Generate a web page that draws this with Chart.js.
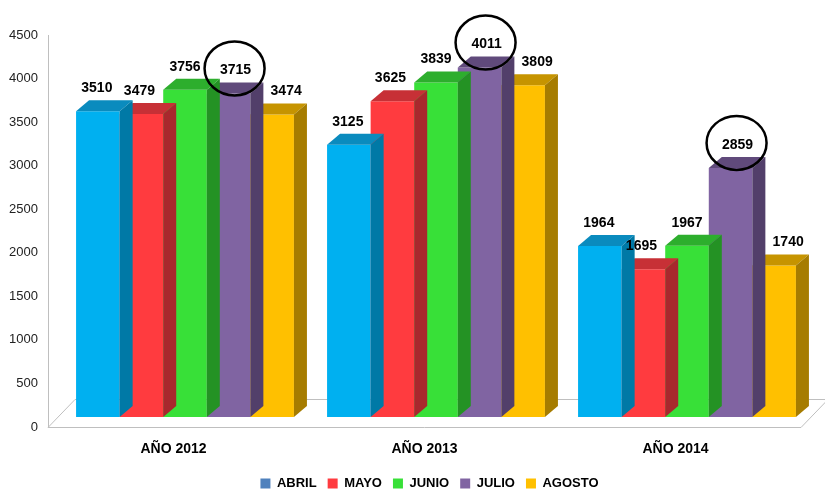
<!DOCTYPE html>
<html>
<head>
<meta charset="utf-8">
<script src="https://cdn.jsdelivr.net/npm/chart.js@4/dist/chart.umd.min.js"></script>
<style>
html,body{margin:0;padding:0;background:#fff;}
#wrap{width:825px;height:489px;position:relative;}
</style>
</head>
<body>
<div id="wrap"><canvas id="c" width="825" height="489"></canvas></div>
<script>
// ---- data ----
const categories = ['AÑO 2012', 'AÑO 2013', 'AÑO 2014'];
const seriesNames = ['ABRIL', 'MAYO', 'JUNIO', 'JULIO', 'AGOSTO'];
const abril  = [3510, 3125, 1964];
const mayo   = [3479, 3625, 1695];
const junio  = [3756, 3839, 1967];
const julio  = [3715, 4011, 2859];
const agosto = [3474, 3809, 1740];
const yMin = 0, yMax = 4500, yStep = 500;
const circledSeries = 'JULIO';

// ---- styles ----
const frontColors  = ['#00B0F0', '#FF3B3F', '#38E038', '#8064A2', '#FFC000'];
const topColors    = ['#0A8BBE', '#C73036', '#2DAE2D', '#604A7B', '#C69400'];
const sideColors   = ['#0079A6', '#A8282D', '#249224', '#523F6A', '#A67C00'];
const legendColors = ['#4F81BD', '#FF3B3F', '#38E038', '#8064A2', '#FFC000'];
const labelShiftX  = [-1, -2, 0, 7, 14];

const TX = 11.5, TY = -10;      // bar offset inside floor
const DX = 13, DY = 11;         // bar depth
const FONT = '"Liberation Sans", Arial, sans-serif';
Chart.defaults.font.family = FONT;

const seriesValues = [abril, mayo, junio, julio, agosto];

const threeD = {
  id: 'threeD',
  afterLayout(chart) {
    const lg = chart.legend;
    if (lg) { lg.top += 11; lg.bottom += 11; lg.left += 29; lg.right += 29; }
  },
  beforeDatasetsDraw(chart) {
    const {ctx, chartArea: a} = chart;
    ctx.save();
    ctx.strokeStyle = '#BFBFBF';
    ctx.lineWidth = 1;
    ctx.beginPath();
    ctx.moveTo(a.left, a.bottom + 0.5);
    ctx.lineTo(a.right, a.bottom + 0.5);
    ctx.lineTo(a.right + 27, a.bottom - 27.5);
    ctx.moveTo(a.left, a.bottom + 0.5);
    ctx.lineTo(a.left + 27, a.bottom - 27.5);
    ctx.lineTo(a.right + 27, a.bottom - 27.5);
    ctx.stroke();
    ctx.restore();
  },
  beforeDatasetDraw(chart) {
    chart.ctx.save();
    chart.ctx.translate(TX, TY);
  },
  afterDatasetDraw(chart, args) {
    const ctx = chart.ctx;
    const i = args.index;
    const meta = chart.getDatasetMeta(i);
    meta.data.forEach(el => {
      const p = el.getProps(['x', 'y', 'base', 'width'], true);
      const l = p.x - p.width / 2, r = p.x + p.width / 2;
      ctx.fillStyle = topColors[i];
      ctx.beginPath();
      ctx.moveTo(l, p.y);
      ctx.lineTo(r, p.y);
      ctx.lineTo(r + DX, p.y - DY);
      ctx.lineTo(l + DX, p.y - DY);
      ctx.closePath();
      ctx.fill();
      ctx.fillStyle = sideColors[i];
      ctx.beginPath();
      ctx.moveTo(r, p.y);
      ctx.lineTo(r + DX, p.y - DY);
      ctx.lineTo(r + DX, p.base - DY);
      ctx.lineTo(r, p.base);
      ctx.closePath();
      ctx.fill();
    });
    ctx.restore();
  },
  afterDatasetsDraw(chart) {
    const ctx = chart.ctx;
    ctx.save();
    ctx.font = 'bold 14px ' + FONT;
    ctx.textAlign = 'center';
    ctx.textBaseline = 'middle';
    chart.data.datasets.forEach((ds, i) => {
      const meta = chart.getDatasetMeta(i);
      meta.data.forEach((el, j) => {
        const p = el.getProps(['x', 'y'], true);
        const lx = p.x + TX + labelShiftX[i];
        const ly = p.y + TY - DY - 12;
        ctx.fillStyle = '#000';
        ctx.fillText(String(ds.data[j]), lx, ly);
        if (ds.label === circledSeries) {
          ctx.strokeStyle = '#000';
          ctx.lineWidth = 2.5;
          ctx.beginPath();
          ctx.ellipse(lx - 1, ly - 2, 30, 27, 0, 0, Math.PI * 2);
          ctx.stroke();
        }
      });
    });
    ctx.restore();
  }
};

new Chart(document.getElementById('c'), {
  type: 'bar',
  data: {
    labels: categories,
    datasets: seriesNames.map((name, i) => ({
      label: name,
      data: seriesValues[i],
      backgroundColor: frontColors[i],
      borderWidth: 0,
      categoryPercentage: 0.868,
      barPercentage: 1.0,
      clip: false
    }))
  },
  options: {
    responsive: false,
    animation: false,
    devicePixelRatio: 1,
    layout: { padding: { top: 35, right: 24, left: 0, bottom: 0 } },
    scales: {
      x: {
        grid: { display: false, drawTicks: false },
        border: { display: false },
        ticks: { color: '#000', font: { size: 14, weight: 'bold' }, padding: 14 },
        afterFit(s) { s.height = 28; }
      },
      y: {
        min: yMin, max: yMax,
        grid: { display: false, drawTicks: false },
        border: { display: true, color: '#BFBFBF', width: 1 },
        ticks: { stepSize: yStep, color: '#222', font: { size: 13 }, padding: 10,
                 callback: v => String(v) },
        afterFit(s) { s.width = 48; }
      }
    },
    plugins: {
      tooltip: { enabled: false },
      legend: {
        position: 'bottom',
        labels: {
          boxWidth: 10, boxHeight: 10, padding: 11,
          color: '#000',
          font: { size: 13, weight: 'bold' },
          generateLabels(chart) {
            return chart.data.datasets.map((ds, i) => ({
              text: ds.label, fillStyle: legendColors[i], strokeStyle: legendColors[i],
              lineWidth: 0, hidden: false, datasetIndex: i, fontColor: '#000'
            }));
          }
        }
      }
    }
  },
  plugins: [threeD]
});
</script>
</body>
</html>
